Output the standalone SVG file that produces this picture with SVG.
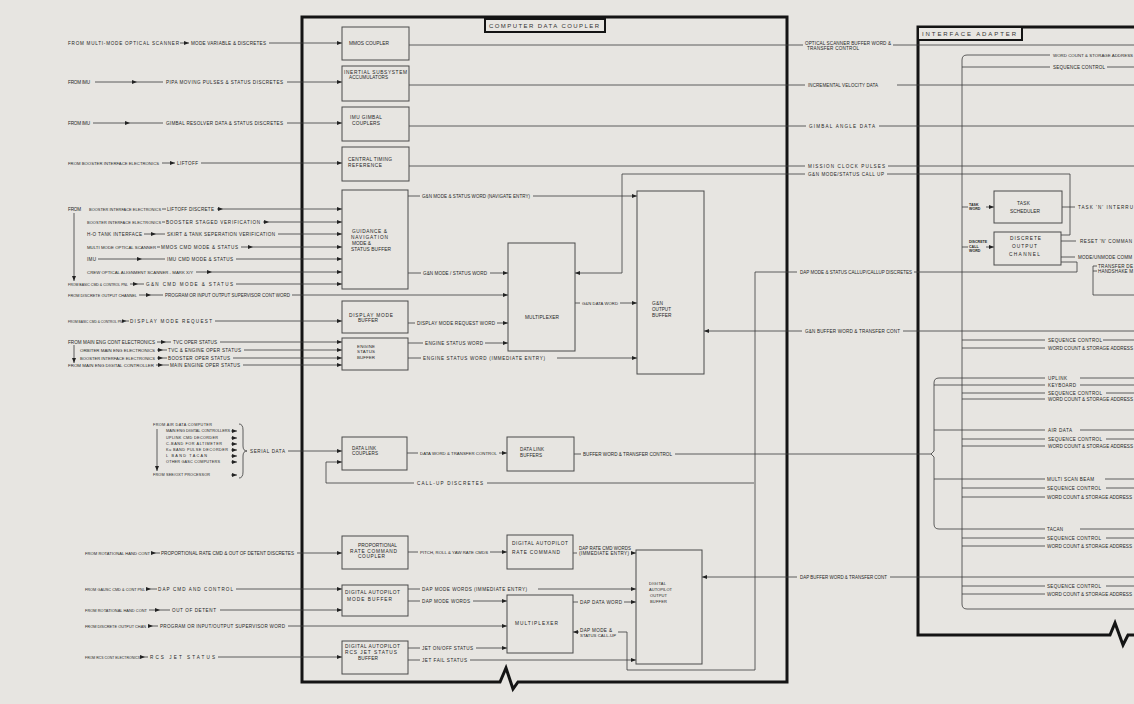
<svg xmlns="http://www.w3.org/2000/svg" width="1134" height="704" viewBox="0 0 1134 704">
<defs>
<marker id="a" viewBox="0 0 5 4" refX="5" refY="2" markerWidth="5" markerHeight="4" orient="auto" markerUnits="userSpaceOnUse"><path d="M0,0 L5,2 L0,4 z" fill="#222"/></marker>
<style>
.t{font-family:"Liberation Sans",Arial,sans-serif;font-size:4.6px;fill:#262626}
.sd{font-size:3.8px}
.b{font-family:"Liberation Sans",Arial,sans-serif;font-size:4.8px;fill:#262626}
.s{font-family:"Liberation Sans",Arial,sans-serif;font-size:3.6px;font-weight:bold;fill:#262626}
.ti{font-family:"Liberation Sans",Arial,sans-serif;font-size:6px;fill:#333}
.ln{stroke:#3a3a3a;stroke-width:0.8;fill:none}
.ar{marker-end:url(#a)}
.mid{marker-mid:url(#a)}
.box{stroke:#4a4a4a;stroke-width:1;fill:none}
.frame{stroke:#141414;stroke-width:3;fill:none;stroke-linejoin:miter}
.tbox{stroke:#141414;stroke-width:2;fill:#e8e6e2}
</style>
</defs>
<rect width="1134" height="704" fill="#e7e5e1"/>

<g id="frames">
<path class="frame" d="M302 17 H787 V682 H518 L513 689 L506 668 L500 682 H302 Z"/>
<rect class="tbox" x="485" y="19" width="120" height="13"/>
<text class="ti" x="489" y="28" textLength="110" lengthAdjust="spacing">COMPUTER DATA COUPLER</text>
<path class="frame" d="M1136 27 H918 V635 H1110 L1115 623 L1123 645 L1128 635 H1136"/>
<rect class="tbox" x="918" y="27" width="104" height="13"/>
<text class="ti" x="922" y="36" textLength="94" lengthAdjust="spacing">INTERFACE ADAPTER</text>
</g>

<g id="connectors">
<path class="ln ar" d="M180 43 H189"/><path class="ln ar" d="M269 43 H342"/>
<path class="ln mid" d="M95 82 H137 H163"/><path class="ln ar" d="M287 82 H342"/>
<path class="ln mid" d="M93 123 H130 H163"/><path class="ln ar" d="M287 123 H342"/>
<path class="ln ar" d="M162 163 H175"/><path class="ln ar" d="M201 163 H342"/>
<path class="ln" d="M162 209 H166"/><path class="ln mid ar" d="M217 209 H223 H342"/>
<path class="ln" d="M162 222 H165"/><path class="ln mid ar" d="M263 222 H269 H342"/>
<path class="ln mid" d="M144 234 H156 H165"/><path class="ln ar" d="M278 234 H342"/>
<path class="ln" d="M157 247 H160"/><path class="ln mid ar" d="M241 247 H253 H342"/>
<path class="ln mid" d="M98 259 H142 H165"/><path class="ln ar" d="M236 259 H342"/>
<path class="ln mid ar" d="M196 272 H212 H342"/>
<path class="ln mid" d="M130 284 H138 H144"/><path class="ln ar" d="M236 284 H342"/>
<path class="ln mid" d="M139 295 H151 H163"/><path class="ln ar" d="M292 295 H508"/>
<path class="ln mid" d="M124.5 321 H126.5 H129"/><path class="ln ar" d="M215 321 H342"/>
<path class="ln mid" d="M157 342 H166 H171"/><path class="ln ar" d="M220 342 H342"/>
<path class="ln mid" d="M157 350 H163 H167"/><path class="ln ar" d="M244 350 H342"/>
<path class="ln mid" d="M157 358 H163 H167"/><path class="ln ar" d="M233 358 H342"/>
<path class="ln mid" d="M156 365 H163 H169"/><path class="ln ar" d="M243 365 H342"/>
<path class="ln ar" d="M74 213 V281"/><path class="ln ar" d="M74 345 V363"/>
<path class="ln ar" d="M157 429 V471"/>
<path class="ln ar" d="M231 431 H237"/><path class="ln ar" d="M231 438 H237"/><path class="ln ar" d="M231 444 H237"/>
<path class="ln ar" d="M231 450 H237"/><path class="ln ar" d="M231 456 H237"/><path class="ln ar" d="M231 462 H237"/>
<path class="ln ar" d="M231 475 H237"/>
<path class="ln" d="M239 424 Q243 424 243 430 V446 Q243 451 247 451 Q243 451 243 456 V472 Q243 478 239 478"/>
<path class="ln ar" d="M288 451 H342"/>
<path class="ln mid" d="M151 553 H156 H160"/><path class="ln ar" d="M297 553 H342"/>
<path class="ln mid" d="M146 589 H151 H157"/><path class="ln ar" d="M236 589 H342"/>
<path class="ln mid" d="M149 610 H160 H170"/><path class="ln ar" d="M220 610 H342"/>
<path class="ln mid" d="M148 626 H153 H158"/><path class="ln ar" d="M288 626 H507"/>
<path class="ln mid" d="M142 657 H145 H148"/><path class="ln ar" d="M218 657 H342"/>
<path class="ln" d="M409 45 H803"/><path class="ln" d="M893 45 H1134"/>
<path class="ln" d="M409 85 H805"/><path class="ln" d="M897 85 H1134"/>
<path class="ln" d="M409 126 H806"/><path class="ln" d="M879 126 H1134"/>
<path class="ln" d="M409 166 H805"/><path class="ln" d="M888 166 H1134"/>
<path class="ln" d="M1061 235 H1070 V174 H887"/><path class="ln ar" d="M805 174 H622 V273 H575"/>
<path class="ln" d="M408 196 H420"/><path class="ln ar" d="M533 196 H637"/>
<path class="ln" d="M408 273 H421"/><path class="ln ar" d="M490 273 H508"/>
<path class="ln" d="M408 323 H415"/><path class="ln ar" d="M497 323 H508"/>
<path class="ln" d="M408 343 H423"/><path class="ln ar" d="M485 343 H508"/>
<path class="ln" d="M408 358 H421"/><path class="ln ar" d="M557 358 H637"/>
<path class="ln" d="M575 303 H580"/><path class="ln ar" d="M620 303 H637"/>
<path class="ln" d="M1134 331 H903"/><path class="ln ar" d="M802 331 H704"/>
<path class="ln" d="M407 453 H418"/><path class="ln ar" d="M499 453 H507"/>
<path class="ln" d="M574 454 H581"/><path class="ln" d="M675 454 H931"/>
<path class="ln" d="M754 483 H487"/><path class="ln ar" d="M414 483 H326 V462 H342"/>
<path class="ln" d="M408 552 H418"/><path class="ln ar" d="M490 552 H507"/>
<path class="ln" d="M573 553 H577"/><path class="ln ar" d="M633 553 H636"/>
<path class="ln" d="M408 589 H420"/><path class="ln ar" d="M538 589 H636"/>
<path class="ln" d="M408 601 H420"/><path class="ln ar" d="M473 601 H507"/>
<path class="ln" d="M573 602 H578"/><path class="ln ar" d="M624 602 H636"/>
<path class="ln" d="M408 648 H420"/><path class="ln ar" d="M476 648 H507"/>
<path class="ln" d="M408 660 H420"/><path class="ln ar" d="M470 660 H636"/>
<path class="ln" d="M1061 262 H1077 V272 H914"/>
<path class="ln" d="M797 272 H755 V670 H627 V632 H618"/>
<path class="ln ar" d="M579 632 H573"/>
<path class="ln" d="M1134 577 H890"/><path class="ln ar" d="M797 577 H702"/>
<path class="ln" d="M1050 55 H967 Q962 55 962 60 V604 Q962 609 967 609 H1134"/>
<path class="ln" d="M962 67 H1050"/><path class="ln" d="M1107 67 H1134"/>
<path class="ln" d="M962 207 H968"/><path class="ln ar" d="M986 207 H994"/>
<path class="ln" d="M962 247 H968"/><path class="ln ar" d="M986 247 H994"/>
<path class="ln" d="M1062 207 H1075"/>
<path class="ln" d="M1061 241 H1076"/>
<path class="ln" d="M1061 257 H1075"/>
<path class="ln" d="M1097 266 H1093 V295 H1134 M1093 271 H1097"/>
<path class="ln" d="M962 340 H1045"/><path class="ln" d="M1103 340 H1134"/>
<path class="ln" d="M962 348 H1045"/>
<path class="ln" d="M1045 378 H939 Q934 378 934 383 V451 L931 454 L934 457 V524 Q934 529 939 529 H1045"/>
<path class="ln" d="M934 385 H1045"/>
<path class="ln" d="M934 430 H1045"/>
<path class="ln" d="M934 479 H1045"/>
<path class="ln" d="M1080 378 H1134 M1080 385 H1134 M1080 430 H1134 M1105 479 H1134 M1080 529 H1134"/>
<path class="ln" d="M962 393 H1045 M962 399 H1045 M962 439 H1045 M962 446 H1045 M962 488 H1045 M962 497 H1045 M962 538 H1045 M962 546 H1045 M962 586 H1045 M962 594 H1045"/>
<path class="ln" d="M1106 393 H1134 M1106 439 H1134 M1106 488 H1134 M1106 538 H1134 M1106 586 H1134"/>
</g>

<g id="labels">
<text class="t" x="68" y="44.8" textLength="111" lengthAdjust="spacing">FROM MULTI-MODE OPTICAL SCANNER</text>
<text class="t" x="191" y="44.8" textLength="75" lengthAdjust="spacing">MODE VARIABLE &amp; DISCRETES</text>
<text class="t" x="68" y="83.8" textLength="22" lengthAdjust="spacing">FROM IMU</text>
<text class="t" x="166" y="83.8" textLength="117" lengthAdjust="spacing">PIPA MOVING PULSES &amp; STATUS DISCRETES</text>
<text class="t" x="68" y="124.8" textLength="22" lengthAdjust="spacing">FROM IMU</text>
<text class="t" x="166" y="124.8" textLength="117" lengthAdjust="spacing">GIMBAL RESOLVER DATA &amp; STATUS DISCRETES</text>
<text class="t" x="68" y="164.8" style="font-size:4.2px" textLength="91" lengthAdjust="spacing">FROM BOOSTER INTERFACE ELECTRONICS</text>
<text class="t" x="177" y="164.8" textLength="21" lengthAdjust="spacing">LIFTOFF</text>
<text class="t" x="68" y="210.8" textLength="13" lengthAdjust="spacing">FROM</text>
<text class="t" x="89" y="210.8" style="font-size:3.9px" textLength="72" lengthAdjust="spacing">BOOSTER INTERFACE ELECTRONICS</text>
<text class="t" x="167" y="210.8" textLength="47" lengthAdjust="spacing">LIFTOFF DISCRETE</text>
<text class="t" x="87" y="223.8" style="font-size:3.9px" textLength="74" lengthAdjust="spacing">BOOSTER INTERFACE ELECTRONICS</text>
<text class="t" x="166" y="223.8" textLength="94" lengthAdjust="spacing">BOOSTER STAGED VERIFICATION</text>
<text class="t" x="87" y="235.8" textLength="55" lengthAdjust="spacing">H-O TANK INTERFACE</text>
<text class="t" x="167" y="235.8" textLength="108" lengthAdjust="spacing">SKIRT &amp; TANK SEPERATION VERIFICATION</text>
<text class="t" x="87" y="248.8" style="font-size:4.3px" textLength="69" lengthAdjust="spacing">MULTI MODE OPTICAL SCANNER</text>
<text class="t" x="161" y="248.8" textLength="77" lengthAdjust="spacing">MMOS CMD MODE &amp; STATUS</text>
<text class="t" x="87" y="260.8" textLength="9" lengthAdjust="spacing">IMU</text>
<text class="t" x="167" y="260.8" textLength="66" lengthAdjust="spacing">IMU CMD MODE &amp; STATUS</text>
<text class="t" x="87" y="273.8" style="font-size:4.3px" textLength="106" lengthAdjust="spacing">CREW OPTICAL ALIGNMENT SCANNER - MARK X/Y</text>
<text class="t" x="68" y="285.8" style="font-size:3.5px" textLength="60" lengthAdjust="spacing">FROM BASIC CMD &amp; CONTROL PNL</text>
<text class="t" x="146" y="285.8" textLength="87" lengthAdjust="spacing">G&amp;N CMD MODE &amp; STATUS</text>
<text class="t" x="68" y="296.8" style="font-size:3.85px" textLength="69" lengthAdjust="spacing">FROM DISCRETE OUTPUT CHANNEL</text>
<text class="t" x="165" y="296.8" style="font-size:4.45px" textLength="125" lengthAdjust="spacing">PROGRAM OR INPUT OUTPUT SUPERVISOR CONT WORD</text>
<text class="t" x="68" y="322.8" style="font-size:3.25px" textLength="56" lengthAdjust="spacing">FROM BASIC CMD &amp; CONTROL PNL</text>
<text class="t" x="130" y="322.8" textLength="82" lengthAdjust="spacing">DISPLAY MODE REQUEST</text>
<text class="t" x="68" y="343.8" textLength="87" lengthAdjust="spacing">FROM MAIN ENG CONT ELECTRONICS</text>
<text class="t" x="173" y="343.8" textLength="44" lengthAdjust="spacing">TVC OPER STATUS</text>
<text class="t" x="80" y="351.8" style="font-size:4.4px" textLength="75" lengthAdjust="spacing">ORBITER MAIN ENG ELECTRONICS</text>
<text class="t" x="168" y="351.8" textLength="73" lengthAdjust="spacing">TVC &amp; ENGINE OPER STATUS</text>
<text class="t" x="80" y="359.8" style="font-size:4.1px" textLength="75" lengthAdjust="spacing">BOOSTER INTERFACE ELECTRONICS</text>
<text class="t" x="168" y="359.8" textLength="62" lengthAdjust="spacing">BOOSTER OPER STATUS</text>
<text class="t" x="68" y="366.8" style="font-size:4.4px" textLength="86" lengthAdjust="spacing">FROM MAIN ENG DIGITAL CONTROLLER</text>
<text class="t" x="170" y="366.8" textLength="70" lengthAdjust="spacing">MAIN ENGINE OPER STATUS</text>

<text class="t sd" x="153" y="426.4" textLength="59" lengthAdjust="spacing">FROM AIR DATA COMPUTER</text>
<text class="t sd" x="166" y="432.4" textLength="64" lengthAdjust="spacing">MAIN ENG DIGITAL CONTROLLERS</text>
<text class="t sd" x="166" y="439.4" textLength="52" lengthAdjust="spacing">UPLINK CMD DECORDER</text>
<text class="t sd" x="166" y="445.4" textLength="56" lengthAdjust="spacing">C-BAND FOR ALTIMETER</text>
<text class="t sd" x="166" y="451.4" textLength="62" lengthAdjust="spacing">Ku BAND PULSE DECORDER</text>
<text class="t sd" x="166" y="457.4" textLength="41" lengthAdjust="spacing">L BAND TACAN</text>
<text class="t sd" x="166" y="463.4" textLength="54" lengthAdjust="spacing">OTHER GASC COMPUTERS</text>
<text class="t sd" x="153" y="476.4" textLength="57" lengthAdjust="spacing">FROM SEE/OXT PROCESSOR</text>
<text class="t" x="250" y="452.6" textLength="35" lengthAdjust="spacing">SERIAL DATA</text>

<text class="t" x="85" y="554.8" style="font-size:4.1px" textLength="65" lengthAdjust="spacing">FROM ROTATIONAL HAND CONT</text>
<text class="t" x="161" y="554.8" textLength="133" lengthAdjust="spacing">PROPORTIONAL RATE CMD &amp; OUT OF DETENT DISCRETES</text>
<text class="t" x="85" y="590.8" style="font-size:3.8px" textLength="60" lengthAdjust="spacing">FROM GAUSC CMD &amp; CONT PNL</text>
<text class="t" x="158" y="590.8" textLength="75" lengthAdjust="spacing">DAP CMD AND CONTROL</text>
<text class="t" x="85" y="611.8" style="font-size:3.9px" textLength="62" lengthAdjust="spacing">FROM ROTATIONAL HAND CONT</text>
<text class="t" x="172" y="611.8" textLength="44" lengthAdjust="spacing">OUT OF DETENT</text>
<text class="t" x="85" y="627.8" style="font-size:3.85px" textLength="61" lengthAdjust="spacing">FROM DISCRETE OUTPUT CHAN</text>
<text class="t" x="160" y="627.8" textLength="125" lengthAdjust="spacing">PROGRAM OR INPUT/OUTPUT SUPERVISOR WORD</text>
<text class="t" x="85" y="658.8" style="font-size:3.45px" textLength="55" lengthAdjust="spacing">FROM RCS CONT ELECTRONICS</text>
<text class="t" x="150" y="658.8" textLength="65" lengthAdjust="spacing">RCS JET STATUS</text>

<text class="t" x="422" y="197.8" style="font-size:4.5px" textLength="108" lengthAdjust="spacing">G&amp;N MODE &amp; STATUS WORD (NAVIGATE ENTRY)</text>
<text class="t" x="423" y="274.8" textLength="64" lengthAdjust="spacing">G&amp;N MODE / STATUS WORD</text>
<text class="t" x="417" y="324.8" textLength="78" lengthAdjust="spacing">DISPLAY MODE REQUEST WORD</text>
<text class="t" x="425" y="344.8" textLength="58" lengthAdjust="spacing">ENGINE STATUS WORD</text>
<text class="t" x="423" y="359.8" textLength="122" lengthAdjust="spacing">ENGINE STATUS WORD (IMMEDIATE ENTRY)</text>
<text class="t" x="582" y="304.8" style="font-size:4.2px" textLength="36" lengthAdjust="spacing">G&amp;N DATA WORD</text>
<text class="t" x="420" y="454.8" style="font-size:4.3px" textLength="77" lengthAdjust="spacing">DATA WORD &amp; TRANSFER CONTROL</text>
<text class="t" x="583" y="455.8" textLength="89" lengthAdjust="spacing">BUFFER WORD &amp; TRANSFER CONTROL</text>
<text class="t" x="417" y="484.8" textLength="66" lengthAdjust="spacing">CALL-UP DISCRETES</text>
<text class="t" x="420" y="553.8" style="font-size:4.3px" textLength="68" lengthAdjust="spacing">PITCH, ROLL &amp; YAW RATE CMDS</text>
<text class="t" x="579" y="549.5" style="font-size:4.45px" textLength="52" lengthAdjust="spacing">DAP RATE CMD WORDS</text>
<text class="t" x="579" y="555" textLength="50" lengthAdjust="spacing">(IMMEDIATE ENTRY)</text>
<text class="t" x="422" y="590.8" textLength="105" lengthAdjust="spacing">DAP MODE WORDS (IMMEDIATE ENTRY)</text>
<text class="t" x="422" y="602.8" textLength="48" lengthAdjust="spacing">DAP MODE WORDS</text>
<text class="t" x="580" y="603.8" textLength="42" lengthAdjust="spacing">DAP DATA WORD</text>
<text class="t" x="580" y="631.5" textLength="32" lengthAdjust="spacing">DAP MODE &amp;</text>
<text class="t" x="580" y="637" style="font-size:4.25px" textLength="36" lengthAdjust="spacing">STATUS CALL-UP</text>
<text class="t" x="422" y="649.8" textLength="51" lengthAdjust="spacing">JET ON/OFF STATUS</text>
<text class="t" x="422" y="661.8" textLength="45" lengthAdjust="spacing">JET FAIL STATUS</text>

<text class="t" x="805" y="44.6" textLength="86" lengthAdjust="spacing">OPTICAL SCANNER BUFFER WORD &amp;</text>
<text class="t" x="807" y="50.4" textLength="52" lengthAdjust="spacing">TRANSFER CONTROL</text>
<text class="t" x="808" y="86.8" style="font-size:4.5px" textLength="70" lengthAdjust="spacing">INCREMENTAL VELOCITY DATA</text>
<text class="t" x="809" y="127.8" textLength="66" lengthAdjust="spacing">GIMBAL ANGLE DATA</text>
<text class="t" x="808" y="167.8" textLength="77" lengthAdjust="spacing">MISSION CLOCK PULSES</text>
<text class="t" x="808" y="175.8" textLength="76" lengthAdjust="spacing">G&amp;N MODE/STATUS CALL UP</text>
<text class="t" x="800" y="273.8" style="font-size:4.5px" textLength="112" lengthAdjust="spacing">DAP MODE &amp; STATUS CALLUP/CALLUP DISCRETES</text>
<text class="t" x="805" y="332.8" textLength="95" lengthAdjust="spacing">G&amp;N BUFFER WORD &amp; TRANSFER CONT</text>
<text class="t" x="800" y="578.8" style="font-size:4.45px" textLength="87" lengthAdjust="spacing">DAP BUFFER WORD &amp; TRANSFER CONT</text>

<text class="t" x="1053" y="56.8" style="font-size:4.35px" textLength="80" lengthAdjust="spacing">WORD COUNT &amp; STORAGE ADDRESS</text>
<text class="t" x="1053" y="68.8" textLength="52" lengthAdjust="spacing">SEQUENCE CONTROL</text>
<text class="s" x="969" y="205.5">TASK</text>
<text class="s" x="969" y="210">WORD</text>
<text class="s" x="969" y="243">DISCRETE</text>
<text class="s" x="969" y="247.5">CALL</text>
<text class="s" x="969" y="252">WORD</text>
<text class="t" x="1078" y="208.8" textLength="55" lengthAdjust="spacing">TASK 'N' INTERRU</text>
<text class="t" x="1080" y="242.8" textLength="52" lengthAdjust="spacing">RESET 'N' COMMAN</text>
<text class="t" x="1078" y="258.8" textLength="54" lengthAdjust="spacing">MODE/UNMODE COMM</text>
<text class="t" x="1098" y="267.5" textLength="35" lengthAdjust="spacing">TRANSFER DE</text>
<text class="t" x="1098" y="272.8" textLength="35" lengthAdjust="spacing">HANDSHAKE M</text>
<text class="t" x="1048" y="341.8" textLength="54" lengthAdjust="spacing">SEQUENCE CONTROL</text>
<text class="t" x="1048" y="349.8" textLength="85" lengthAdjust="spacing">WORD COUNT &amp; STORAGE ADDRESS</text>
<text class="t" x="1048" y="379.8" textLength="19" lengthAdjust="spacing">UPLINK</text>
<text class="t" x="1048" y="386.8" textLength="28" lengthAdjust="spacing">KEYBOARD</text>
<text class="t" x="1048" y="394.8" textLength="54" lengthAdjust="spacing">SEQUENCE CONTROL</text>
<text class="t" x="1048" y="400.8" textLength="85" lengthAdjust="spacing">WORD COUNT &amp; STORAGE ADDRESS</text>
<text class="t" x="1048" y="431.8" textLength="24" lengthAdjust="spacing">AIR DATA</text>
<text class="t" x="1048" y="440.8" textLength="54" lengthAdjust="spacing">SEQUENCE CONTROL</text>
<text class="t" x="1048" y="447.8" textLength="85" lengthAdjust="spacing">WORD COUNT &amp; STORAGE ADDRESS</text>
<text class="t" x="1047" y="480.8" textLength="47" lengthAdjust="spacing">MULTI SCAN BEAM</text>
<text class="t" x="1047" y="489.8" textLength="54" lengthAdjust="spacing">SEQUENCE CONTROL</text>
<text class="t" x="1047" y="498.8" textLength="85" lengthAdjust="spacing">WORD COUNT &amp; STORAGE ADDRESS</text>
<text class="t" x="1047" y="530.8" textLength="16" lengthAdjust="spacing">TACAN</text>
<text class="t" x="1047" y="539.8" textLength="54" lengthAdjust="spacing">SEQUENCE CONTROL</text>
<text class="t" x="1047" y="547.8" textLength="85" lengthAdjust="spacing">WORD COUNT &amp; STORAGE ADDRESS</text>
<text class="t" x="1047" y="587.8" textLength="54" lengthAdjust="spacing">SEQUENCE CONTROL</text>
<text class="t" x="1047" y="595.8" textLength="85" lengthAdjust="spacing">WORD COUNT &amp; STORAGE ADDRESS</text>
</g>

<g id="mmos-coupler"><rect class="box" x="342" y="27" width="67" height="33"/><text class="b" x="349" y="45" textLength="40" lengthAdjust="spacing">MMOS COUPLER</text></g>
<g id="inertial-accumulators"><rect class="box" x="342" y="66" width="67" height="35"/><text class="b" x="344" y="73.5" textLength="63" lengthAdjust="spacing">INERTIAL SUBSYSTEM</text><text class="b" x="349" y="79" style="font-size:4.6px" textLength="39" lengthAdjust="spacing">ACCUMULATORS</text></g>
<g id="imu-gimbal-couplers"><rect class="box" x="342" y="107" width="67" height="34"/><text class="b" x="350" y="119" textLength="32" lengthAdjust="spacing">IMU GIMBAL</text><text class="b" x="352" y="125" textLength="28" lengthAdjust="spacing">COUPLERS</text></g>
<g id="central-timing"><rect class="box" x="342" y="147" width="67" height="34"/><text class="b" x="348" y="160.5" textLength="44" lengthAdjust="spacing">CENTRAL TIMING</text><text class="b" x="348" y="166.5" textLength="34" lengthAdjust="spacing">REFERENCE</text></g>
<g id="gn-mode-buffer"><rect class="box" x="342" y="190" width="66" height="99"/><text class="b" x="352" y="233" textLength="35" lengthAdjust="spacing">GUIDANCE &amp;</text><text class="b" x="351" y="239" textLength="37" lengthAdjust="spacing">NAVIGATION</text><text class="b" x="352" y="245" textLength="19" lengthAdjust="spacing">MODE &amp;</text><text class="b" x="351" y="251" textLength="40" lengthAdjust="spacing">STATUS BUFFER</text></g>
<g id="display-mode-buffer"><rect class="box" x="342" y="301" width="66" height="32"/><text class="b" x="349" y="316.5" textLength="44" lengthAdjust="spacing">DISPLAY MODE</text><text class="b" x="358" y="322" textLength="20" lengthAdjust="spacing">BUFFER</text></g>
<g id="engine-status-buffer"><rect class="box" x="342" y="338" width="66" height="32"/><text class="b" x="357" y="347.5" style="font-size:4.4px" textLength="18" lengthAdjust="spacing">ENGINE</text><text class="b" x="357" y="353" style="font-size:4.4px" textLength="18" lengthAdjust="spacing">STATUS</text><text class="b" x="357" y="358.5" style="font-size:4.4px" textLength="18" lengthAdjust="spacing">BUFFER</text></g>
<g id="gn-multiplexer"><rect class="box" x="508" y="243" width="67" height="108"/><text class="b" x="525" y="319" textLength="34" lengthAdjust="spacing">MULTIPLEXER</text></g>
<g id="gn-output-buffer"><rect class="box" x="637" y="191" width="67" height="183"/><text class="b" x="652" y="305" textLength="11" lengthAdjust="spacing">G&amp;N</text><text class="b" x="652" y="311" style="font-size:4.6px" textLength="19" lengthAdjust="spacing">OUTPUT</text><text class="b" x="652" y="317" textLength="19.5" lengthAdjust="spacing">BUFFER</text></g>
<g id="data-link-couplers"><rect class="box" x="342" y="437" width="65" height="33"/><text class="b" x="352" y="449.5" style="font-size:4.6px" textLength="24" lengthAdjust="spacing">DATA LINK</text><text class="b" x="352" y="455" style="font-size:4.6px" textLength="26" lengthAdjust="spacing">COUPLERS</text></g>
<g id="data-link-buffers"><rect class="box" x="507" y="437" width="67" height="34"/><text class="b" x="520" y="451" style="font-size:4.6px" textLength="24" lengthAdjust="spacing">DATA LINK</text><text class="b" x="520" y="457" style="font-size:4.6px" textLength="22" lengthAdjust="spacing">BUFFERS</text></g>
<g id="proportional-coupler"><rect class="box" x="342" y="536" width="66" height="33"/><text class="b" x="358" y="546.5" textLength="39" lengthAdjust="spacing">PROPORTIONAL</text><text class="b" x="350" y="552.5" textLength="47" lengthAdjust="spacing">RATE COMMAND</text><text class="b" x="358" y="558" textLength="27" lengthAdjust="spacing">COUPLER</text></g>
<g id="dap-rate-command"><rect class="box" x="507" y="535" width="66" height="34"/><text class="b" x="512" y="545" textLength="56" lengthAdjust="spacing">DIGITAL AUTOPILOT</text><text class="b" x="512" y="554" textLength="48" lengthAdjust="spacing">RATE COMMAND</text></g>
<g id="dap-mode-buffer"><rect class="box" x="342" y="585" width="66" height="31"/><text class="b" x="345" y="593.5" textLength="55" lengthAdjust="spacing">DIGITAL AUTOPILOT</text><text class="b" x="347" y="600.5" textLength="45" lengthAdjust="spacing">MODE BUFFER</text></g>
<g id="dap-multiplexer"><rect class="box" x="507" y="595" width="66" height="58"/><text class="b" x="515" y="624.5" textLength="43" lengthAdjust="spacing">MULTIPLEXER</text></g>
<g id="dap-output-buffer"><rect class="box" x="636" y="550" width="66" height="114"/><text class="b" x="649" y="584.5" style="font-size:4px" textLength="17" lengthAdjust="spacing">DIGITAL</text><text class="b" x="649" y="590.5" style="font-size:4px" textLength="23" lengthAdjust="spacing">AUTOPILOT</text><text class="b" x="650" y="596.5" style="font-size:4px" textLength="17" lengthAdjust="spacing">OUTPUT</text><text class="b" x="650" y="602.5" style="font-size:4px" textLength="17" lengthAdjust="spacing">BUFFER</text></g>
<g id="dap-rcs-jet-buffer"><rect class="box" x="342" y="641" width="66" height="33"/><text class="b" x="345" y="647.5" textLength="55" lengthAdjust="spacing">DIGITAL AUTOPILOT</text><text class="b" x="345" y="653.5" textLength="52" lengthAdjust="spacing">RCS JET STATUS</text><text class="b" x="358" y="659.5" textLength="20" lengthAdjust="spacing">BUFFER</text></g>
<g id="task-scheduler"><rect class="box" x="994" y="191" width="68" height="32"/><text class="b" x="1017" y="204.5" textLength="13" lengthAdjust="spacing">TASK</text><text class="b" x="1010" y="213" textLength="30" lengthAdjust="spacing">SCHEDULER</text></g>
<g id="discrete-output-channel"><rect class="box" x="994" y="232" width="67" height="33"/><text class="b" x="1010" y="240" textLength="31" lengthAdjust="spacing">DISCRETE</text><text class="b" x="1012" y="247.5" textLength="25" lengthAdjust="spacing">OUTPUT</text><text class="b" x="1009" y="255.5" textLength="31" lengthAdjust="spacing">CHANNEL</text></g>
</svg>
